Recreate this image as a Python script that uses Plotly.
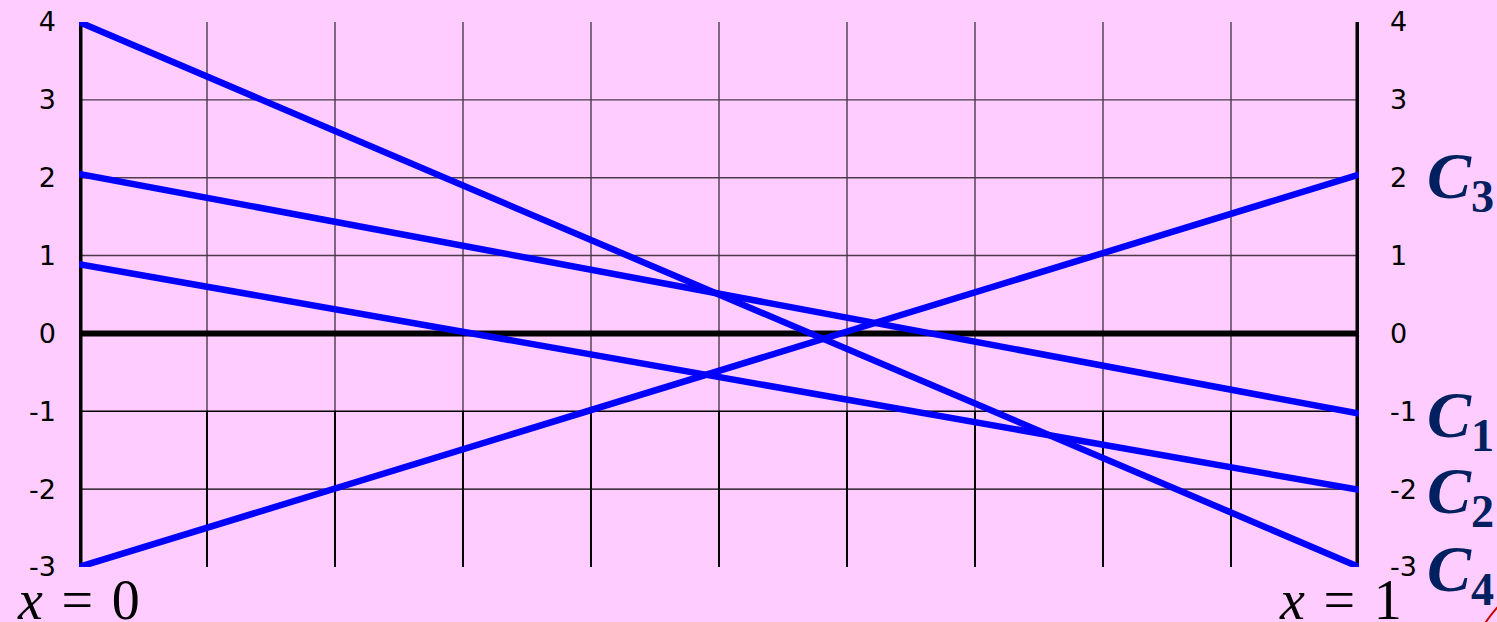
import plotly.graph_objects as go

# ---- data ----
x_ends = [0, 1]
series_names = ["C1", "C2", "C3", "C4"]
c1 = [2.05, -1.03]
c2 = [0.89, -2.01]
c3 = [-3.0, 2.04]
c4 = [4.0, -3.0]
y_ticks = [-3, -2, -1, 0, 1, 2, 3, 4]
x_grid = [0, 0.1, 0.2, 0.3, 0.4, 0.5, 0.6, 0.7, 0.8, 0.9, 1.0]
end_labels = ["<b><i>C</i><sub>1</sub></b>", "<b><i>C</i><sub>2</sub></b>",
              "<b><i>C</i><sub>3</sub></b>", "<b><i>C</i><sub>4</sub></b>"]

BG = "#FFCCFF"
BLUE = "#0000FF"
NAVY = "#002060"
GRID_UP = "#4a3a4a"

fig = go.Figure()
for name, ys in zip(series_names, [c1, c2, c3, c4]):
    fig.add_trace(go.Scatter(x=x_ends, y=ys, mode="lines", name=name,
                             line=dict(color=BLUE, width=6.5), cliponaxis=False,
                             showlegend=False, hoverinfo="skip"))

ymin, ymax = min(y_ticks), max(y_ticks)
shapes = []
for gx in x_grid[1:-1]:
    shapes.append(dict(type="line", xref="x", yref="y", x0=gx, x1=gx, y0=-1, y1=ymax,
                       line=dict(color=GRID_UP, width=1.4), layer="below"))
    shapes.append(dict(type="line", xref="x", yref="y", x0=gx, x1=gx, y0=ymin, y1=-1,
                       line=dict(color="black", width=2), layer="below"))
for gy in y_ticks:
    if gy in (0, ymin, ymax):
        continue
    col = "black" if gy < 0 else GRID_UP
    shapes.append(dict(type="line", xref="x", yref="y", x0=0, x1=1, y0=gy, y1=gy,
                       line=dict(color=col, width=1.4), layer="below"))
shapes.append(dict(type="line", xref="x", yref="y", x0=0, x1=1, y0=0, y1=0,
                   line=dict(color="black", width=6), layer="below"))
for gx in (x_grid[0], x_grid[-1]):
    shapes.append(dict(type="line", xref="x", yref="y", x0=gx, x1=gx, y0=ymin, y1=ymax,
                       line=dict(color="black", width=7), layer="below"))
shapes.append(dict(type="path", xref="paper", yref="paper",
                   path="M 1.098 -0.105 Q 1.11 -0.06 1.135 -0.02",
                   line=dict(color="#cc0000", width=2)))

annotations = []
for lab, ys in zip(end_labels, [c1, c2, c3, c4]):
    annotations.append(dict(x=1, y=ys[-1], xref="x", yref="y", text=lab,
                            showarrow=False, xanchor="left", yanchor="middle",
                            xshift=66, yshift=-6,
                            font=dict(family="Liberation Serif", size=66, color=NAVY)))
annotations.append(dict(x=0, y=ymin, xref="x", yref="y", text="<i>x</i>\u2004=\u20040",
                        showarrow=False, xanchor="center", yanchor="top",
                        xshift=-1, yshift=0,
                        font=dict(family="Liberation Serif", size=56, color="black")))
annotations.append(dict(x=1, y=ymin, xref="x", yref="y", text="<i>x</i>\u2004=\u20041",
                        showarrow=False, xanchor="center", yanchor="top",
                        xshift=-19, yshift=0,
                        font=dict(family="Liberation Serif", size=56, color="black")))

tickfont = dict(family="DejaVu Sans", size=27, color="black")
fig.update_layout(
    width=1497, height=622,
    paper_bgcolor=BG, plot_bgcolor=BG,
    margin=dict(l=79, r=138, t=22, b=55, autoexpand=False),
    shapes=shapes, annotations=annotations,
    xaxis=dict(range=[0, 1], showgrid=False, zeroline=False, showticklabels=False,
               ticks="", showline=False, fixedrange=True, automargin=False),
    yaxis=dict(range=[ymin, ymax], tickvals=y_ticks, ticktext=[str(v) for v in y_ticks],
               showgrid=False, zeroline=False, ticks="", showline=False, automargin=False,
               tickfont=tickfont, ticklabelstandoff=22),
    yaxis2=dict(range=[ymin, ymax], tickvals=y_ticks, ticktext=[str(v) for v in y_ticks],
                overlaying="y", side="right", showgrid=False, zeroline=False, automargin=False,
                ticks="", showline=False, tickfont=tickfont, ticklabelstandoff=30),
)
fig.add_trace(go.Scatter(x=[0], y=[0], yaxis="y2", mode="markers",
                         marker=dict(opacity=0), showlegend=False, hoverinfo="skip"))

fig.write_html("out.html", config={"displayModeBar": False},
               post_script="document.body.style.margin='0';document.body.style.overflow='hidden';")
